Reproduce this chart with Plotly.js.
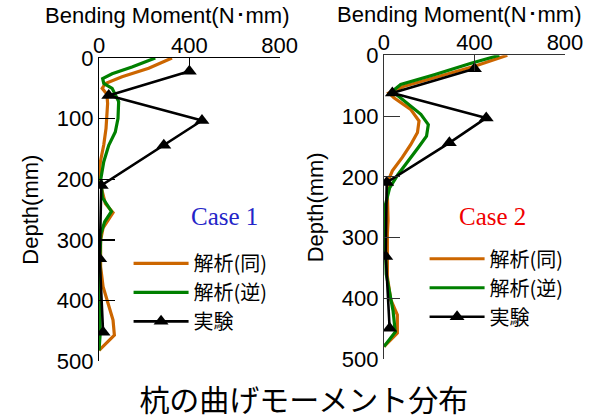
<!DOCTYPE html>
<html>
<head>
<meta charset="utf-8">
<script src="https://cdn.plot.ly/plotly-3.0.1.min.js"></script>
<style>html,body{margin:0;padding:0;background:#fff}#chart{width:598px;height:419px}</style>
</head>
<body>
<div id="chart"></div>
<script>
// ---- Data ----
const xTickVals = [0, 400, 800];
const yTickVals = [0, 100, 200, 300, 400, 500];
const seriesNames = ['解析(同)', '解析(逆)', '実験'];
const caseLabels = ['Case 1', 'Case 2'];

// Case 1
const c1SameDepth = [0, 17, 31, 42, 50, 60, 75, 90, 116, 143, 171, 199, 221, 240, 255, 280, 300, 344, 377, 432, 457, 482];
const c1SameMoment = [323, 220, 102, 28, 14, 35, 38, 35, 31, 21, 6, 0, 14, 28, 62, 18, 7, 7, 18, 62, 68, 0];
const c1RevDepth = [0, 15, 26, 34, 42, 50, 72, 100, 122, 144, 171, 199, 230, 253, 270, 290, 340, 400, 455, 482];
const c1RevMoment = [249, 146, 58, 16, 21, 58, 87, 84, 72, 43, 21, 8, 15, 55, 25, 8, 3, 5, 5, 0];
const c1ExpDepth = [22, 62, 103, 144, 210, 331, 452];
const c1ExpMoment = [400, 43, 456, 287, 10, 3, 18];

// Case 2
const c2SameDepth = [0, 18, 37, 51, 62, 70, 89, 108, 127, 147, 168, 190, 207, 228, 272, 293, 364, 402, 427, 457, 479];
const c2SameMoment = [545, 400, 222, 89, 22, 44, 118, 155, 148, 118, 81, 37, 18, 15, 18, 15, 15, 30, 59, 59, 0];
const c2RevDepth = [0, 13, 32, 48, 59, 75, 97, 114, 133, 152, 171, 196, 218, 245, 300, 360, 420, 455, 479];
const c2RevMoment = [510, 385, 222, 74, 37, 89, 163, 196, 188, 151, 114, 62, 25, 7, 5, 10, 40, 50, 0];
const c2ExpDepth = [22, 62, 103, 144, 209, 331, 449];
const c2ExpMoment = [400, 37, 452, 289, 12, 8, 25];

// ---- Styles ----
const ORANGE = '#cc6600', GREEN = '#008000', BLACK = '#000000';
const LAT = 'Arial, "Liberation Sans", sans-serif';
const JP = '"Noto Sans CJK JP", sans-serif';

function lineTrace(x, y, color, width, name, xa, ya, legend, group) {
  return {x: x, y: y, type: 'scatter', mode: 'lines', name: name,
    line: {color: color, width: width}, xaxis: xa, yaxis: ya,
    legend: legend, legendgroup: group, showlegend: true, hoverinfo: 'skip'};
}
function expTrace(x, y, name, xa, ya, legend, group) {
  return {x: x, y: y, type: 'scatter', mode: 'lines+markers', name: name,
    line: {color: BLACK, width: 2.6},
    marker: {symbol: 'triangle-up', size: 13, color: BLACK},
    xaxis: xa, yaxis: ya, legend: legend, legendgroup: group, showlegend: true, hoverinfo: 'skip'};
}

const data = [
  lineTrace(c1SameMoment, c1SameDepth, ORANGE, 3.2, seriesNames[0], 'x', 'y', 'legend', 'a1'),
  lineTrace(c1RevMoment, c1RevDepth, GREEN, 3.2, seriesNames[1], 'x', 'y', 'legend', 'b1'),
  expTrace(c1ExpMoment, c1ExpDepth, seriesNames[2], 'x', 'y', 'legend', 'c1'),
  lineTrace(c2SameMoment, c2SameDepth, ORANGE, 3.2, seriesNames[0], 'x2', 'y2', 'legend2', 'a2'),
  lineTrace(c2RevMoment, c2RevDepth, GREEN, 3.2, seriesNames[1], 'x2', 'y2', 'legend2', 'b2'),
  expTrace(c2ExpMoment, c2ExpDepth, seriesNames[2], 'x2', 'y2', 'legend2', 'c2')
];

function xAxis(domain, anchor, color) {
  return {domain: domain, anchor: anchor, side: 'top', range: [0, 800],
    tickmode: 'array', tickvals: xTickVals, ticks: 'inside', ticklen: 16, tickwidth: 1.2,
    tickcolor: color, showline: true, linecolor: color, linewidth: 1.2, mirror: false,
    showgrid: false, zeroline: false, tickfont: {family: LAT, size: 22, color: '#000'},
    ticklabelstandoff: -5,
    automargin: false, fixedrange: true};
}
function yAxis(domain, anchor, color) {
  return {domain: domain, anchor: anchor, range: [500, 0],
    tickmode: 'array', tickvals: yTickVals, ticks: 'inside', ticklen: 16, tickwidth: 1.2,
    tickcolor: color, showline: true, linecolor: color, linewidth: 1.2, mirror: false,
    showgrid: false, zeroline: false, tickfont: {family: LAT, size: 22, color: '#000'},
    title: {text: 'Depth(mm)', font: {family: LAT, size: 22, color: '#000'}, standoff: 12},
    automargin: false, fixedrange: true};
}

const legendBase = {font: {family: JP, size: 20, color: '#000'}, bgcolor: 'rgba(0,0,0,0)',
  xanchor: 'left', yanchor: 'top', traceorder: 'normal', tracegroupgap: 10, itemwidth: 55};

const layout = {
  width: 598, height: 419,
  margin: {l: 0, r: 0, t: 0, b: 0},
  paper_bgcolor: '#fff', plot_bgcolor: '#fff',
  showlegend: true,
  title: {text: '杭の曲げモーメント分布', font: {family: JP, size: 30, color: '#000'},
    x: 0.508, xanchor: 'center', y: 0.043, yanchor: 'middle'},
  xaxis: xAxis([0.1656, 0.4676], 'y', '#000'),
  yaxis: yAxis([0.1377, 0.8616], 'x', '#000'),
  xaxis2: xAxis([0.6421, 0.9448], 'y2', '#333'),
  yaxis2: yAxis([0.1425, 0.868], 'x2', '#333'),
  legend: Object.assign({}, legendBase, {x: 0.215, y: 0.418}),
  legend2: Object.assign({}, legendBase, {x: 0.71, y: 0.429}),
  annotations: [
    {text: 'Bending Moment(N･mm)', xref: 'paper', yref: 'paper', x: 0.2793, y: 0.962,
      xanchor: 'center', yanchor: 'middle', showarrow: false, font: {family: LAT, size: 22, color: '#000'}},
    {text: 'Bending Moment(N･mm)', xref: 'paper', yref: 'paper', x: 0.769, y: 0.966,
      xanchor: 'center', yanchor: 'middle', showarrow: false, font: {family: LAT, size: 22, color: '#000'}},
    {text: caseLabels[0], xref: 'paper', yref: 'paper', x: 0.3746, y: 0.4828,
      xanchor: 'center', yanchor: 'middle', showarrow: false,
      font: {family: '"Liberation Serif", "Times New Roman", serif', size: 25, color: '#2424c8'}},
    {text: caseLabels[1], xref: 'paper', yref: 'paper', x: 0.824, y: 0.4828,
      xanchor: 'center', yanchor: 'middle', showarrow: false,
      font: {family: '"Liberation Serif", "Times New Roman", serif', size: 25, color: '#f00000'}}
  ]
};

Plotly.newPlot('chart', data, layout, {staticPlot: true, displayModeBar: false});
</script>
</body>
</html>
